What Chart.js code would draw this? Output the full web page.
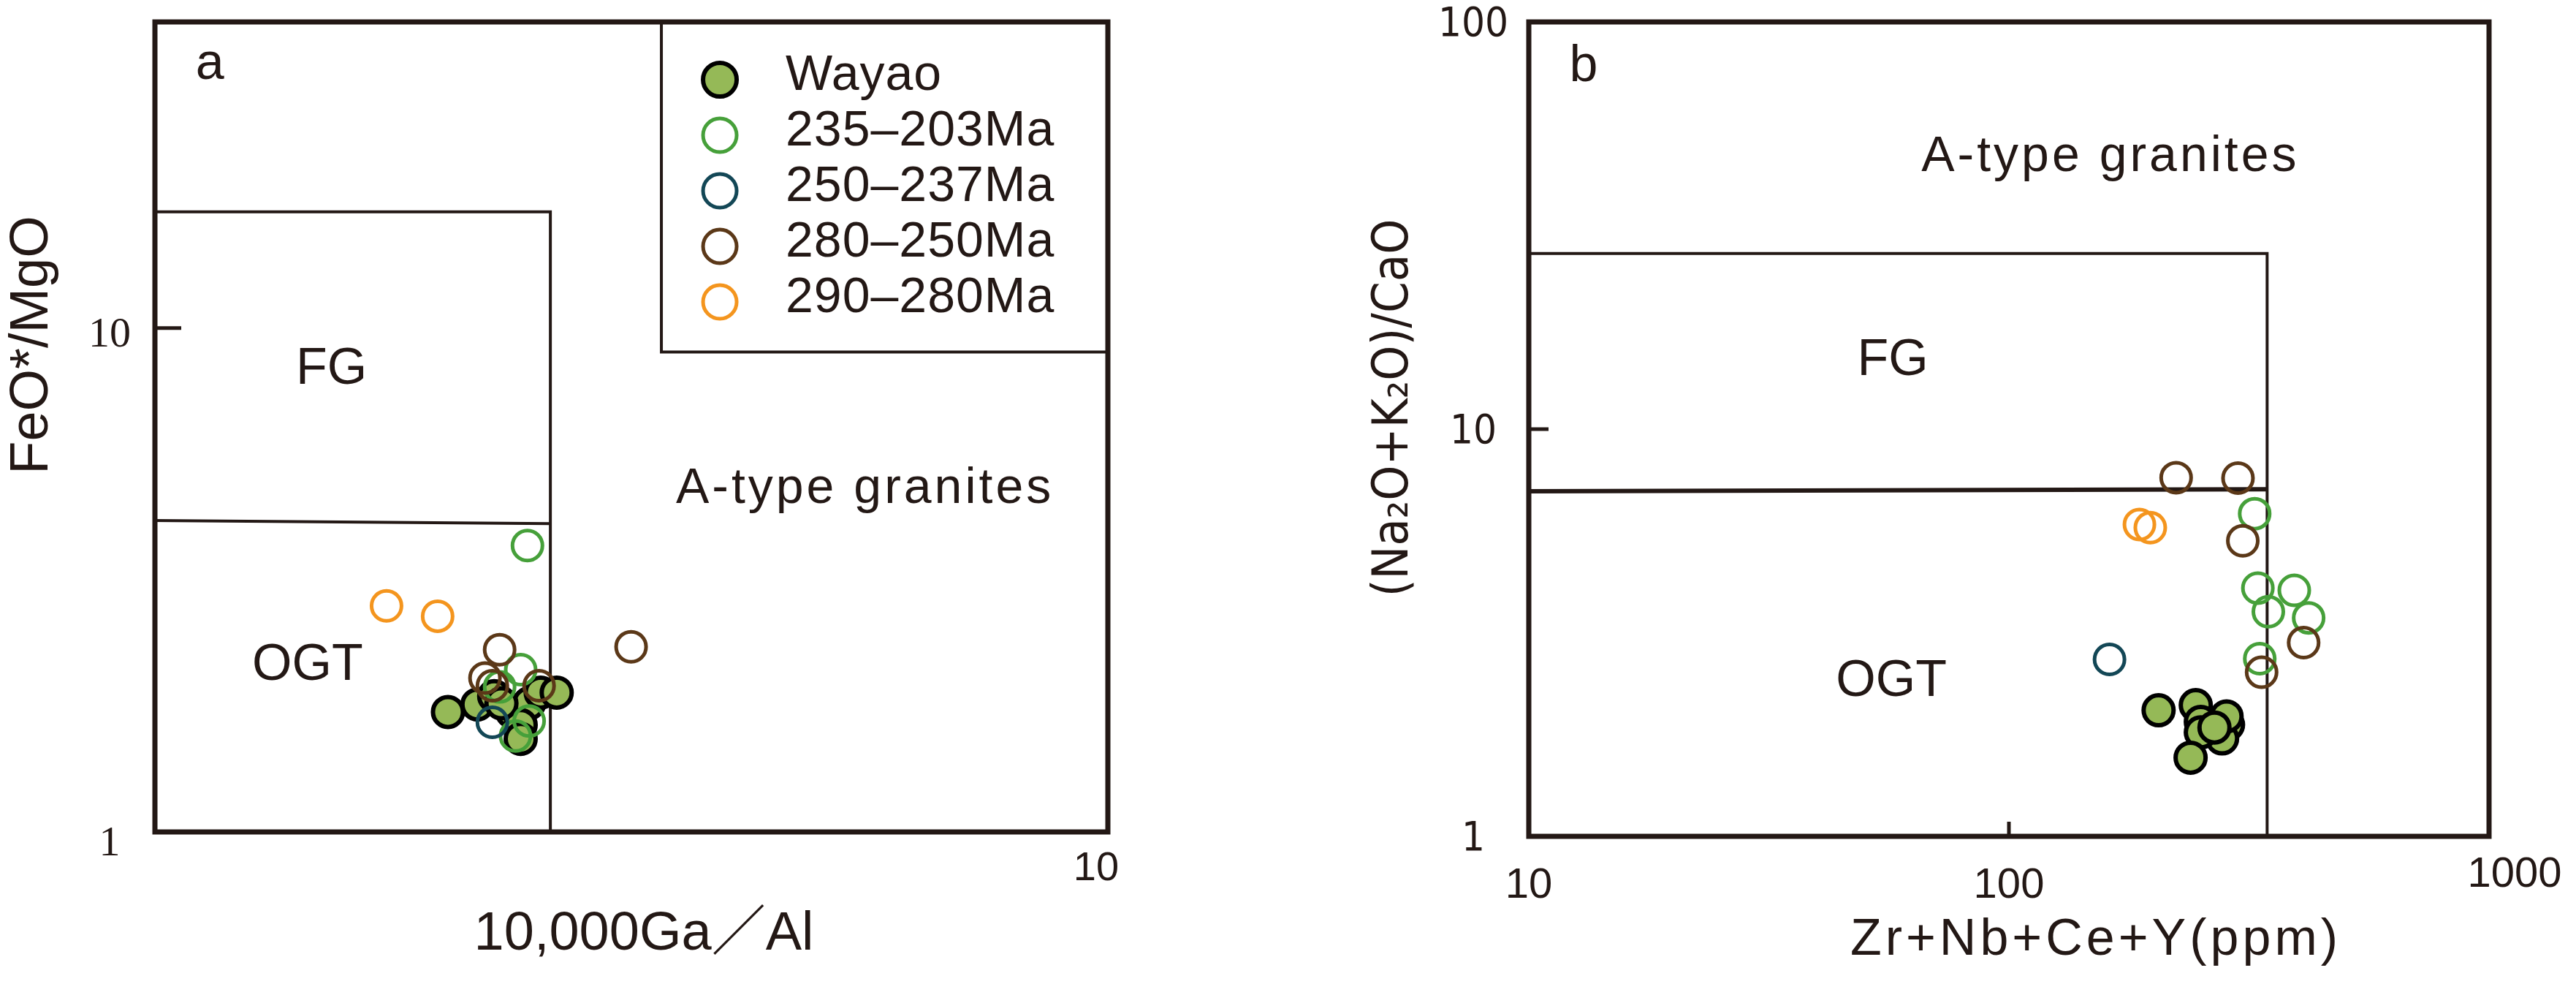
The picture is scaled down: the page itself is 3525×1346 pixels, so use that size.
<!DOCTYPE html>
<html>
<head>
<meta charset="utf-8">
<script src="https://cdn.jsdelivr.net/npm/chart.js@4.4.0/dist/chart.umd.min.js"></script>
<style>
  html, body { margin: 0; padding: 0; background: #fff; }
  #wrap { position: relative; width: 3525px; height: 1346px; }
  canvas { position: absolute; top: 0; }
  #chartA { left: 0; }
  #chartB { left: 1760px; }
</style>
</head>
<body>
<div id="wrap">
  <canvas id="chartA" width="1760" height="1346"></canvas>
  <canvas id="chartB" width="1765" height="1346"></canvas>
</div>
<script>
// グループ名
const groupNames = ['Wayao', '235–203Ma', '250–237Ma', '280–250Ma', '290–280Ma'];

// a: 10000Ga/Al vs FeO*/MgO  [x, y]
const wayaoA = [[2.03, 1.73], [2.18, 1.79], [2.27, 1.86], [2.37, 1.73], [2.47, 1.80],
                [2.54, 1.89], [2.64, 1.89], [2.42, 1.63], [2.42, 1.53], [2.31, 1.80]];
const g235A = [[2.46, 3.70], [2.42, 2.10], [2.30, 1.94], [2.47, 1.66], [2.39, 1.55]];
const g250A = [[2.26, 1.65]];
const g280A = [[2.30, 2.30], [3.16, 2.33], [2.22, 2.02], [2.26, 1.95], [2.53, 1.95]];
const g290A = [[1.75, 2.81], [1.98, 2.68]];

// b: Zr+Nb+Ce+Y vs (Na2O+K2O)/CaO  [x, y]
const wayaoB = [[205, 2.04], [245, 2.10], [251, 1.91], [286, 1.88], [278, 1.74],
                [251, 1.80], [284, 1.97], [239, 1.56], [268, 1.85]];
const g235B = [[325, 6.20], [330, 4.07], [393, 4.02], [347, 3.56], [421, 3.44], [333, 2.73]];
const g250B = [[162, 2.72]];
const g280B = [[223, 7.60], [300, 7.58], [307, 5.32], [411, 2.99], [336, 2.53]];
const g290B = [[187, 5.83], [197, 5.73]];

// 境界線
const fgBoxA = [[1, 17], [2.6, 17], [2.6, 1]];
const ogtLineA = [[1, 4.15], [2.6, 4.09]];
const fgBoxB = [[10, 27], [345, 27], [345, 1]];
const ogtLineB = [[10, 7.04], [345, 7.12]];

// 目盛りラベル
const xTicksA = [10];
const yTicksA = [1, 10];
const xTicksB = [10, 100, 1000];
const yTicksB = [1, 10, 100];

// 領域ラベル [text, x, y]
const labelsA = [['a', 1.142, 33.3], ['FG', 1.532, 8.27], ['OGT', 1.446, 2.14], ['A-type granites', 5.56, 4.78]];
const labelsB = [['b', 13.0, 77.5], ['A-type granites', 162.7, 46.5], ['FG', 57.3, 14.7], ['OGT', 56.9, 2.40]];

const ink = '#231815';
const colors = ['#95B957', '#46A03A', '#134756', '#5B3818', '#F4951E'];

const toXY = arr => arr.map(p => ({x: p[0], y: p[1]}));

function pointSets(sets) {
  return sets.map((arr, i) => ({
    label: groupNames[i],
    data: toXY(arr),
    showLine: false,
    pointRadius: 20.5,
    pointBorderWidth: i == 0 ? 6 : 5,
    pointBackgroundColor: i == 0 ? colors[0] : 'rgba(0,0,0,0)',
    pointBorderColor: i == 0 ? '#000' : colors[i],
    order: i == 0 ? 10 : 5 - i
  }));
}

function lineSet(arr, w) {
  return {
    data: toXY(arr),
    showLine: true,
    pointRadius: 0,
    borderColor: ink,
    borderWidth: w,
    order: 20
  };
}

function drawText(ctx, s, x, y, font, align, rot, spacing) {
  ctx.save();
  ctx.font = font;
  ctx.fillStyle = ink;
  ctx.textAlign = align || 'center';
  ctx.textBaseline = 'middle';
  if (spacing) ctx.letterSpacing = spacing;
  ctx.translate(x, y);
  if (rot) ctx.rotate(rot);
  ctx.fillText(s, 0, 0);
  ctx.restore();
}

function framePlugin(cfg) {
  return {
    id: 'frame',
    afterDraw(chart) {
      const ctx = chart.ctx;
      const a = chart.chartArea;
      const xs = chart.scales.x, ys = chart.scales.y;

      // 内向き目盛り
      ctx.save();
      ctx.strokeStyle = ink;
      ctx.lineWidth = 5;
      cfg.yMarks.forEach(v => {
        const py = ys.getPixelForValue(v);
        ctx.beginPath(); ctx.moveTo(a.left, py); ctx.lineTo(a.left + cfg.tickLen, py); ctx.stroke();
      });
      cfg.xMarks.forEach(v => {
        const px = xs.getPixelForValue(v);
        ctx.beginPath(); ctx.moveTo(px, a.bottom); ctx.lineTo(px, a.bottom - 20); ctx.stroke();
      });
      // 枠
      ctx.lineWidth = 7;
      ctx.strokeRect(a.left, a.top, a.right - a.left, a.bottom - a.top);
      ctx.restore();

      // 目盛りラベル
      cfg.yTicks.forEach(v => {
        let py = ys.getPixelForValue(v) + cfg.yTickDy;
        if (v == ys.min) py += cfg.minDy;
        drawText(ctx, String(v), a.left - cfg.yTickGap, py, cfg.yTickFont);
      });
      cfg.xTicks.forEach(v => {
        let px = xs.getPixelForValue(v);
        let py = a.bottom + cfg.xTickGap;
        if (v == xs.max) { px += cfg.maxDx; py += cfg.maxDy; }
        drawText(ctx, String(v), px, py, cfg.xTickFont);
      });

      // 軸タイトル
      drawText(ctx, cfg.xTitle, cfg.xTitlePos[0], cfg.xTitlePos[1], cfg.xTitleFont, 'center', 0, cfg.xTitleSpacing);
      drawText(ctx, cfg.yTitle, cfg.yTitlePos[0], cfg.yTitlePos[1], cfg.yTitleFont, 'center', -Math.PI / 2);

      // 領域ラベル
      cfg.labels.forEach(l => {
        const big = l[0] == 'A-type granites';
        drawText(ctx, l[0], xs.getPixelForValue(l[1]), ys.getPixelForValue(l[2]),
          big ? cfg.bigFont : '70px "Liberation Sans", Arial, sans-serif', 'center', 0, big ? cfg.bigSpacing : null);
      });

      if (cfg.legend) drawLegend(chart, cfg.legend);
    }
  };
}

function drawLegend(chart, corner) {
  const ctx = chart.ctx;
  const a = chart.chartArea;
  const bx = chart.scales.x.getPixelForValue(corner[0]);
  const by = chart.scales.y.getPixelForValue(corner[1]);
  ctx.save();
  ctx.strokeStyle = ink;
  ctx.lineWidth = 4;
  ctx.beginPath();
  ctx.moveTo(bx, a.top); ctx.lineTo(bx, by); ctx.lineTo(a.right, by);
  ctx.stroke();
  const sets = chart.data.datasets.filter(d => d.label);
  sets.forEach((d, i) => {
    const cy = a.top + 79 + i * 76;
    ctx.beginPath();
    ctx.arc(bx + 80, cy, 23, 0, Math.PI * 2);
    ctx.fillStyle = d.pointBackgroundColor;
    ctx.fill();
    ctx.lineWidth = d.pointBorderWidth;
    ctx.strokeStyle = d.pointBorderColor;
    ctx.stroke();
    drawText(ctx, d.label, bx + 170, cy - 5, '68px "Liberation Sans", Arial, sans-serif', 'left', 0, '1px');
  });
  ctx.restore();
}

const baseOptions = (pad, xr, yr) => ({
  responsive: false,
  animation: false,
  devicePixelRatio: 1,
  layout: {padding: pad},
  plugins: {legend: {display: false}, tooltip: {enabled: false}},
  scales: {
    x: {type: 'logarithmic', min: xr[0], max: xr[1], display: false},
    y: {type: 'logarithmic', min: yr[0], max: yr[1], display: false}
  }
});

new Chart(document.getElementById('chartA').getContext('2d'), {
  type: 'scatter',
  data: {
    datasets: pointSets([wayaoA, g235A, g250A, g280A, g290A])
      .concat([lineSet(fgBoxA, 4), lineSet(ogtLineA, 4)])
  },
  options: baseOptions({left: 212, top: 30, right: 244, bottom: 208}, [1, 10], [1, 40.5]),
  plugins: [framePlugin({
    yMarks: [10], xMarks: [], tickLen: 36,
    yTicks: yTicksA, xTicks: xTicksA,
    yTickGap: 62, yTickDy: 10, minDy: 7,
    yTickFont: '58px "Liberation Serif", "Times New Roman", serif',
    xTickGap: 51, maxDx: -16, maxDy: 0,
    xTickFont: '56px "Liberation Sans", Arial, sans-serif',
    xTitle: '10,000Ga／Al', xTitlePos: [881, 1279],
    xTitleFont: '74px "Liberation Sans", Arial, "Noto Sans CJK SC", sans-serif',
    yTitle: 'FeO*/MgO', yTitlePos: [45, 472],
    yTitleFont: '74px "Liberation Sans", Arial, sans-serif',
    labels: labelsA,
    bigFont: '68px "Liberation Sans", Arial, sans-serif', bigSpacing: '4px',
    legend: [3.4, 8.96]
  })]
});

new Chart(document.getElementById('chartB').getContext('2d'), {
  type: 'scatter',
  data: {
    datasets: pointSets([wayaoB, g235B, g250B, g280B, g290B])
      .concat([lineSet(fgBoxB, 4), lineSet(ogtLineB, 6)])
  },
  options: baseOptions({left: 332, top: 30, right: 119, bottom: 202}, [10, 1000], [1, 100]),
  plugins: [framePlugin({
    yMarks: [10], xMarks: [100], tickLen: 27,
    yTicks: yTicksB, xTicks: xTicksB,
    yTickGap: 76, yTickDy: 4, minDy: 0,
    yTickFont: '56px "Liberation Sans Narrow", "DejaVu Sans Condensed", sans-serif',
    xTickGap: 68, maxDx: 35, maxDy: -15,
    xTickFont: '58px "Liberation Sans", Arial, sans-serif',
    xTitle: 'Zr+Nb+Ce+Y(ppm)', xTitlePos: [1108, 1287], xTitleSpacing: '5px',
    xTitleFont: '70px "Liberation Sans", Arial, sans-serif',
    yTitle: '(Na₂O+K₂O)/CaO', yTitlePos: [148, 558],
    yTitleFont: '68px "Liberation Sans Narrow", "DejaVu Sans Condensed", sans-serif',
    labels: labelsB,
    bigFont: '68px "Liberation Sans", Arial, sans-serif', bigSpacing: '4px',
    legend: null
  })]
});
</script>
</body>
</html>
